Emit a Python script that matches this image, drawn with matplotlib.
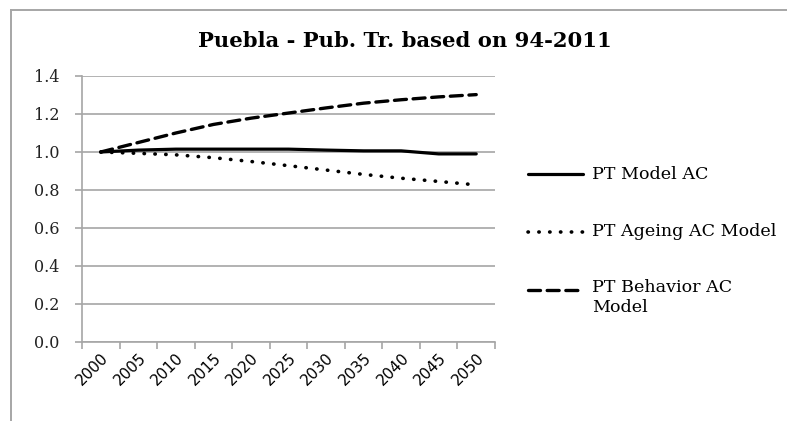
import matplotlib
matplotlib.use("Agg")
import matplotlib.pyplot as plt
from matplotlib.lines import Line2D

# Projection years and indexed public-transport demand (2000 = 1.0)
years = ["2000", "2005", "2010", "2015", "2020", "2025",
         "2030", "2035", "2040", "2045", "2050"]
pt_model_ac = [1.000, 1.010, 1.015, 1.015, 1.015, 1.015,
               1.010, 1.006, 1.006, 0.990, 0.990]
pt_ageing_ac = [1.000, 0.993, 0.985, 0.970, 0.950, 0.928,
                0.905, 0.882, 0.862, 0.845, 0.827]
pt_behavior_ac = [1.000, 1.050, 1.100, 1.145, 1.178, 1.205,
                  1.232, 1.257, 1.275, 1.290, 1.302]
series_names = ["PT Model AC", "PT Ageing AC Model", "PT Behavior AC\nModel"]
y_ticks = [0.0, 0.2, 0.4, 0.6, 0.8, 1.0, 1.2, 1.4]
title = "Puebla - Pub. Tr. based on 94-2011"

W, H = 787, 421
fig = plt.figure(figsize=(W / 100, H / 100), dpi=100)
fig.patch.set_facecolor("white")

grey = "#a6a6a6"
serif = ["DejaVu Serif"]
sans = ["DejaVu Sans"]

# chart-area frame: top and left edges
top = 1 - 9.5 / H
left = 10.5 / W
fig.add_artist(Line2D([left, 1.05], [top, top], color=grey, lw=1.4,
                      transform=fig.transFigure))
fig.add_artist(Line2D([left, left], [-0.05, top], color=grey, lw=1.4,
                      transform=fig.transFigure))

ax = fig.add_axes([82 / W, 1 - 342 / H, (495 - 82) / W, (342 - 76) / H])
x = list(range(len(years)))

styles = [
    dict(linestyle="-", lw=2.3, solid_capstyle="round"),
    dict(linestyle=(0, (0.1, 2.9)), lw=2.6, dash_capstyle="round"),
    dict(linestyle=(0, (3.6, 2.0)), lw=2.4, dash_capstyle="round"),
]
for vals, st in zip([pt_model_ac, pt_ageing_ac, pt_behavior_ac], styles):
    ax.plot(x, vals, color="black", zorder=3, **st)

ax.set_xlim(-0.5, len(years) - 0.5)
ax.set_ylim(0, 1.4)
ax.set_yticks(y_ticks)
ax.set_yticklabels([f"{v:.1f}" for v in y_ticks], fontfamily=serif,
                   fontsize=11.5, color="#222222")
ax.yaxis.grid(True, color=grey, lw=1.2)
ax.set_axisbelow(True)

# category ticks sit between categories, labels at the centres
ax.set_xticks([i - 0.5 for i in range(len(years) + 1)])
ax.set_xticklabels([])
ax.set_xticks(x, minor=True)
ax.set_xticklabels(years, minor=True, rotation=45, ha="right",
                   rotation_mode="anchor", fontfamily=sans, fontsize=11,
                   color="black")
ax.tick_params(axis="x", which="minor", length=0, pad=6)
ax.tick_params(axis="x", which="major", length=5, color=grey, width=1.2)
ax.tick_params(axis="y", length=5, color=grey, width=1.2, pad=11)

for s in ["top", "right"]:
    ax.spines[s].set_visible(False)
for s in ["left", "bottom"]:
    ax.spines[s].set_color(grey)
    ax.spines[s].set_linewidth(1.2)

fig.text(405 / W, 1 - 41 / H, title, ha="center", va="center",
         fontfamily=serif, fontweight="bold", fontsize=15.2)

# legend drawn beside the plot area
rows = [174, 232, 290]
for name, st, yr in zip(series_names, styles, rows):
    yf = 1 - yr / H
    fig.add_artist(Line2D([528 / W, 583 / W], [yf, yf], color="black",
                          transform=fig.transFigure, **st))
    if "\n" in name:
        fig.text(592 / W, 1 - (yr - 11) / H, name, ha="left", va="top",
                 fontfamily=serif, fontsize=12.6, linespacing=1.2)
    else:
        fig.text(592 / W, yf, name, ha="left", va="center",
                 fontfamily=serif, fontsize=12.6)

fig.savefig("out.png", dpi=100, facecolor="white")
